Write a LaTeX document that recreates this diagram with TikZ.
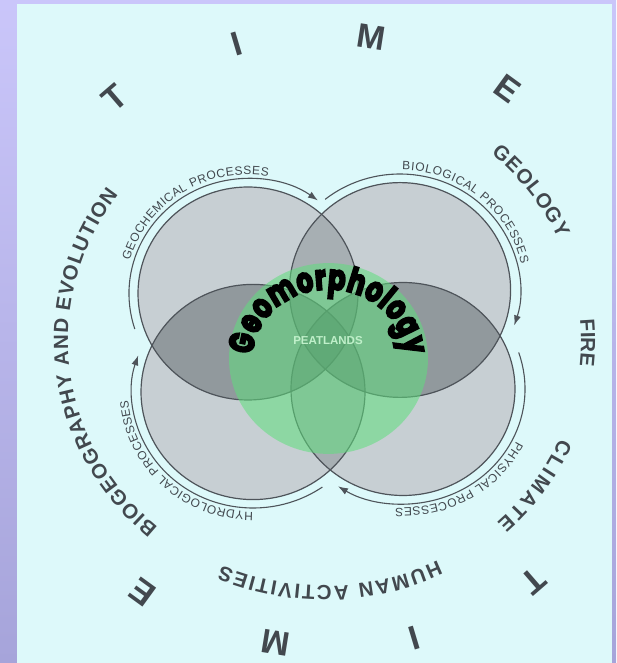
\documentclass[tikz,border=0pt]{standalone}
\usepackage{fontspec}
\setmainfont{Liberation Sans}
\newfontfamily\geofont{Poppins}[FakeStretch=0.73,FakeBold=5]
\usetikzlibrary{decorations.text,arrows.meta}
\definecolor{lavtop}{RGB}{202,198,250}
\definecolor{lavbot}{RGB}{166,164,218}
\definecolor{paper}{RGB}{221,249,250}
\definecolor{disc}{RGB}{199,207,211}
\definecolor{discshade}{RGB}{95,103,108}
\definecolor{ink}{RGB}{66,72,78}
\definecolor{rim}{RGB}{78,84,90}
\definecolor{geogreen}{RGB}{95,222,125}
\definecolor{peat}{RGB}{192,240,202}
\tikzset{
  eTL/.style={insert path={(248,369.5) ellipse [x radius=110,y radius=106.5]}},
  eTR/.style={insert path={(400,373) ellipse [x radius=110.6,y radius=107.4]}},
  eBL/.style={insert path={(253,271) ellipse [x radius=112,y radius=107.6]}},
  eBR/.style={insert path={(403,274) ellipse [x radius=112,y radius=106.5]}},
  cyclearc/.style={draw=rim,line width=1.1pt,-{Latex[length=10pt,width=7pt]}},
  proclabel/.style={decorate,decoration={text along path,text align=fit to path,
     text={|\fontsize{12}{14}\selectfont\color{ink}|#1}}},
  outerlabel/.style={decorate,decoration={text along path,text align=fit to path,
     text={|\bfseries\fontsize{20.5}{24}\selectfont\color{ink}|#1}}},
  timeletter/.style={font=\bfseries\fontsize{34}{34}\selectfont,text=ink,inner sep=0pt}
}
\begin{document}
\begin{tikzpicture}[x=1pt,y=1pt]
\useasboundingbox (0,0) rectangle (616,663);
\shade[top color=lavtop,bottom color=lavbot] (0,0) rectangle (616,663);
\fill[paper] (17,0) rectangle (612,659);

\coordinate (tl) at (248,369.5);
\coordinate (tr) at (400,373);
\coordinate (bl) at (253,271);
\coordinate (br) at (403,274);
\coordinate (gc) at (328.5,304.5);
\coordinate (oc) at (324.5,322.5);

% discs
\fill[disc,eTL];
\fill[disc,eTR];
\fill[disc,eBL];
\fill[disc,eBR];
\foreach \a/\b in {eTL/eTR,eBL/eBR,eTL/eBL,eTR/eBR,eTL/eBR,eTR/eBL}{
  \begin{scope}\clip[\a];\fill[discshade,opacity=0.3,\b];\end{scope}}
\foreach \a/\b in {eTL/eBL,eTR/eBR}{
  \begin{scope}\clip[\a];\fill[discshade,opacity=0.3,\b];\end{scope}}
\draw[rim,line width=1.2pt,eTL];
\draw[rim,line width=1.2pt,eTR];
\draw[rim,line width=1.2pt,eBL];
\draw[rim,line width=1.2pt,eBR];

% green disc
\fill[geogreen,opacity=0.55] (gc) ellipse [x radius=99.5,y radius=95.4];

% process cycle arcs
\path[cyclearc] (tl) ++(198:119 and 115) arc[start angle=198,end angle=54,x radius=119,y radius=115];
\path[cyclearc] (tr) ++(128.6:120 and 116) arc[start angle=128.6,end angle=-17.8,x radius=120,y radius=116];
\path[cyclearc] (br) ++(18.5:122 and 115) arc[start angle=18.5,end angle=-122.2,x radius=122,y radius=115];
\path[cyclearc] (bl) ++(-55:121 and 116) arc[start angle=-55,end angle=-198.4,x radius=121,y radius=116];

% process labels
\path[proclabel={GEOCHEMICAL PROCESSES}] (tl) ++(164:123 and 119) arc[start angle=164,end angle=80.5,x radius=123,y radius=119];
\path[proclabel={BIOLOGICAL PROCESSES}] (tr) ++(89:124 and 120) arc[start angle=89,end angle=12.6,x radius=124,y radius=120];
\path[proclabel={PHYSICAL PROCESSES}] (br) ++(-26:126 and 119) arc[start angle=-26,end angle=-93.5,x radius=126,y radius=119];
\path[proclabel={HYDROLOGICAL PROCESSES}] (bl) ++(-90:125 and 120) arc[start angle=-90,end angle=-176,x radius=125,y radius=120];

% outer labels
\path[outerlabel={BIOGEOGRAPHY AND EVOLUTION}] (oc) ++(229.5:256.5 and 245.5) arc[start angle=229.5,end angle=143.5,x radius=256.5,y radius=245.5];
\path[outerlabel={GEOLOGY}] (oc) ++(49.5:256.5 and 245.5) arc[start angle=49.5,end angle=24.5,x radius=256.5,y radius=245.5];
\path[outerlabel={FIRE}] (oc) ++(4.9:256.5 and 245.5) arc[start angle=4.9,end angle=-5.8,x radius=256.5,y radius=245.5];
\path[outerlabel={CLIMATE}] (oc) ++(-23.5:256.5 and 245.5) arc[start angle=-23.5,end angle=-47.8,x radius=256.5,y radius=245.5];
\path[outerlabel={HUMAN ACTIVITIES}] (oc) ++(-63.8:256.5 and 245.5) arc[start angle=-63.8,end angle=-113.6,x radius=256.5,y radius=245.5];

% TIME letters
\node[timeletter,rotate=40.8] (t1) at (115,565.5) {T};
\node[timeletter,rotate=16.5] (i1) at (236.7,619) {I};
\node[timeletter,rotate=-8.9] (m1) at (371.7,625.5) {M};
\node[timeletter,rotate=-36.1] (e1) at (508,574) {E};
\node[timeletter,rotate=-139.1] (t2) at (533.5,81.5) {T};
\node[timeletter,rotate=-163.3] (i2) at (414,24.5) {I};
\node[timeletter,rotate=170.9] (m2) at (276,20) {M};
\node[timeletter,rotate=144] (e2) at (142,71) {E};

% Geomorphology and peatlands
\path[decorate,decoration={text along path,text align=fit to path,
  text={|\geofont\bfseries\fontsize{35}{35}\selectfont|Geomorphology}}]
  (gc) ++(177:76 and 69) arc[start angle=177,end angle=3,x radius=76,y radius=69];
\node[font=\bfseries\fontsize{11.5}{12}\selectfont,text=peat,inner sep=0pt] (peatlands) at (328,322) {PEATLANDS};
\end{tikzpicture}
\end{document}
